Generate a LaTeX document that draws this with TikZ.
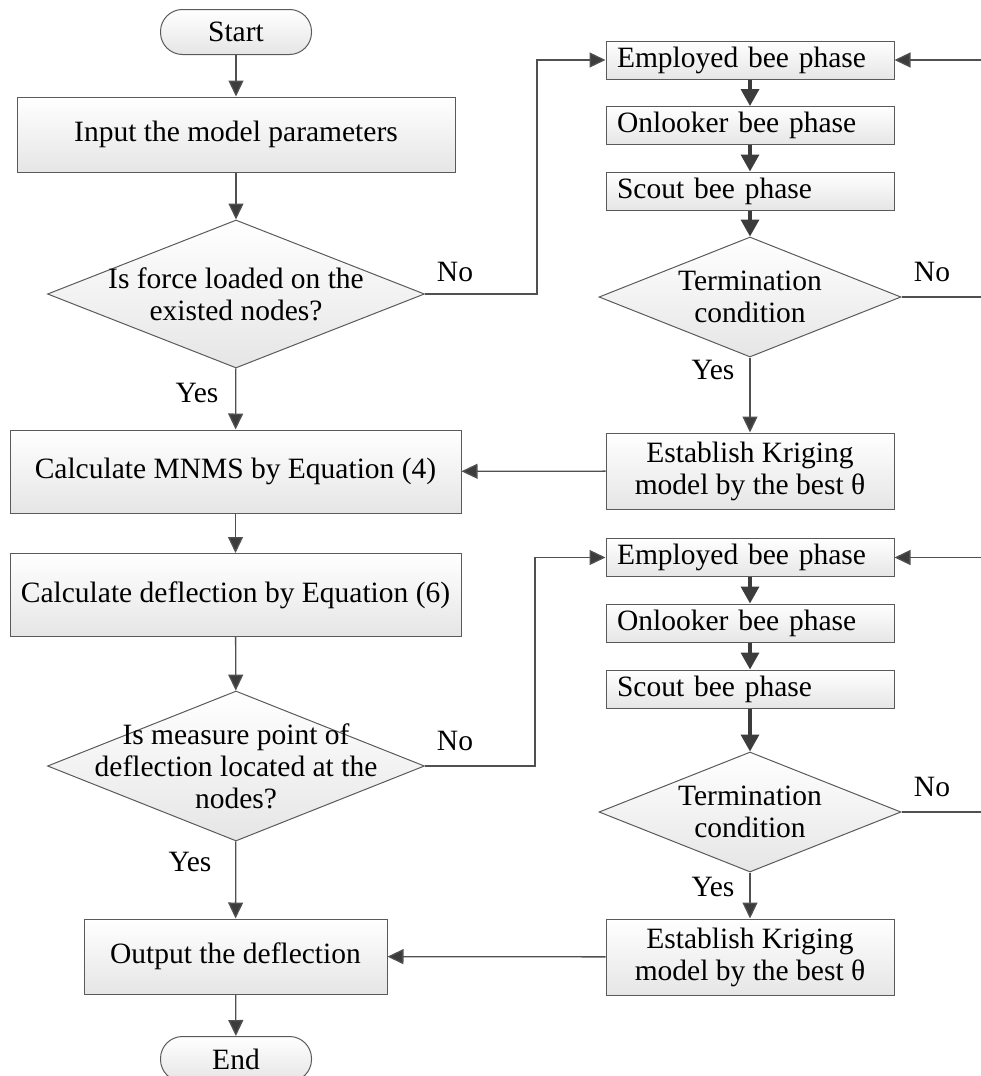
\documentclass[tikz,border=0pt]{standalone}
\usepackage{fontspec}
\setmainfont{Liberation Serif}
\usetikzlibrary{shapes.geometric,arrows.meta}
\definecolor{linec}{RGB}{80,80,80}
\definecolor{tipc}{RGB}{60,60,60}
\definecolor{boxc}{RGB}{90,90,90}
\begin{document}
\begin{tikzpicture}[x=1pt,y=-1pt,
  font=\fontsize{29.5}{32}\selectfont,
  ln/.style={draw=linec, line width=1.3pt},
  arr/.style={ln, -{Triangle[length=16pt,width=15pt,fill=tipc]}},
  thickarr/.style={draw=tipc, line width=3.4pt, -{Triangle[length=17pt,width=18pt,fill=tipc]}},
  box/.style={draw=boxc, line width=1pt, top color=white, bottom color=black!10, inner sep=0pt, align=center},
  dia/.style={box, shape=diamond},
  term/.style={box, rounded corners=22pt, minimum width=151pt, minimum height=45pt},
  bee/.style={box, minimum width=288pt, minimum height=38pt, text width=266pt, inner xsep=11pt, align=left},
  txt/.style={inner sep=0pt, align=center},
]
\useasboundingbox (0,0) rectangle (980,1076);
% left column
\node[term] (start) at (236,32) {Start};
\node[box, minimum width=438pt, minimum height=75pt] (inp) at (236,134.5) {Input the model parameters};
\node[dia, minimum width=377pt, minimum height=148pt] (d1) at (236,294) {};
\node[txt] (d1t) at (236,294) {Is force loaded on the\\existed nodes?};
\node[box, minimum width=451pt, minimum height=83pt] (mnms) at (235.5,471.5) {Calculate MNMS by Equation (4)};
\node[box, minimum width=451pt, minimum height=83pt] (cd) at (235.5,595) {Calculate deflection by Equation (6)};
\node[dia, minimum width=377pt, minimum height=150pt] (d2) at (236,766) {};
\node[txt] (d2t) at (236,766) {Is measure point of\\deflection located at the\\nodes?};
\node[box, minimum width=303pt, minimum height=75pt] (out) at (235.5,956.5) {Output the deflection};
\node[term] (fin) at (236,1059) {End};
% right column, upper loop
\node[bee] (e1) at (750,60) {Employed bee phase};
\node[bee] (o1) at (750,125.5) {Onlooker bee phase};
\node[bee] (s1) at (750,191) {Scout bee phase};
\node[dia, minimum width=302pt, minimum height=120pt] (t1) at (750,297) {};
\node[txt] (t1t) at (750,297) {Termination\\condition};
\node[box, minimum width=288pt, minimum height=76pt] (k1) at (750,471) {Establish Kriging\\model by the best θ};
% right column, lower loop
\node[bee] (e2) at (750,557.5) {Employed bee phase};
\node[bee] (o2) at (750,623) {Onlooker bee phase};
\node[bee] (s2) at (750,689) {Scout bee phase};
\node[dia, minimum width=302pt, minimum height=120pt] (t2) at (750,812) {};
\node[txt] (t2t) at (750,812) {Termination\\condition};
\node[box, minimum width=288pt, minimum height=76pt] (k2) at (750,957) {Establish Kriging\\model by the best θ};
% labels
\node[txt] (no1) at (455,272) {No};
\node[txt] (yes1) at (197,393) {Yes};
\node[txt] (no2) at (932,272) {No};
\node[txt] (yes2) at (713,370) {Yes};
\node[txt] (no3) at (455,741) {No};
\node[txt] (yes3) at (190,862) {Yes};
\node[txt] (no4) at (932,787) {No};
\node[txt] (yes4) at (713,887) {Yes};
% connectors
\draw[arr] (start) -- (inp);
\draw[arr] (inp) -- (d1);
\draw[arr] (d1) -- (mnms);
\draw[arr] (d1.east) -- ++(112,0) |- (e1.west);
\draw[thickarr] (e1) -- (o1);
\draw[thickarr] (o1) -- (s1);
\draw[thickarr] (s1) -- (t1);
\draw[arr] (t1.east) -- ++(90,0) |- (e1.east);
\draw[arr] (t1) -- (k1);
\draw[arr] (k1) -- (mnms);
\draw[arr] (mnms) -- (cd);
\draw[arr] (cd) -- (d2);
\draw[arr] (d2.east) -- ++(110,0) |- (e2.west);
\draw[thickarr] (e2) -- (o2);
\draw[thickarr] (o2) -- (s2);
\draw[thickarr] (s2) -- (t2);
\draw[arr] (t2.east) -- ++(90,0) |- (e2.east);
\draw[arr] (t2) -- (k2);
\draw[arr] (k2) -- (out);
\draw[arr] (d2) -- (out);
\draw[arr] (out) -- (fin);
\end{tikzpicture}
\end{document}
